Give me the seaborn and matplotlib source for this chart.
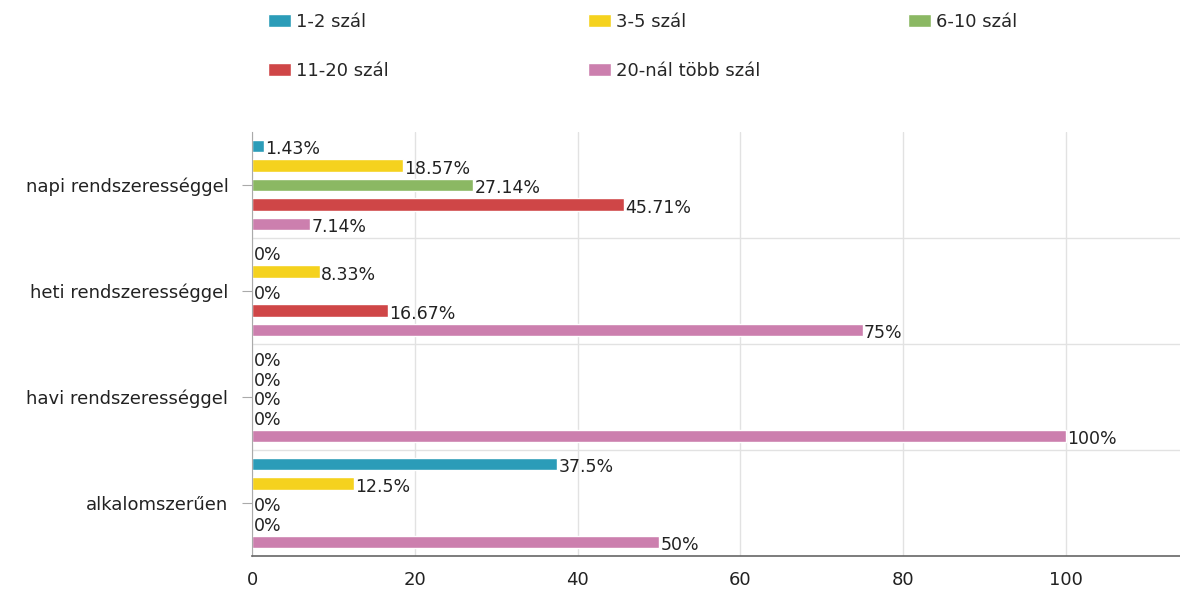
import matplotlib
matplotlib.use("Agg")
import matplotlib.pyplot as plt
import seaborn as sns
import pandas as pd
from matplotlib.patches import Patch

# data
categories = ["napi rendszerességgel", "heti rendszerességgel",
              "havi rendszerességgel", "alkalomszerűen"]
series = ["1-2 szál", "3-5 szál", "6-10 szál", "11-20 szál", "20-nál több szál"]
values = {
    "1-2 szál":          [1.43, 0, 0, 37.5],
    "3-5 szál":          [18.57, 8.33, 0, 12.5],
    "6-10 szál":         [27.14, 0, 0, 0],
    "11-20 szál":        [45.71, 16.67, 0, 0],
    "20-nál több szál":  [7.14, 75, 100, 50],
}
colors = ["#2b9cb8", "#f5d21e", "#8bb863", "#cf4647", "#cc7fae"]
xticks = [0, 20, 40, 60, 80, 100]

rows = []
for s in series:
    for c, v in zip(categories, values[s]):
        rows.append({"cat": c, "series": s, "val": v})
df = pd.DataFrame(rows)

sns.set_style("white")
plt.rcParams["font.family"] = ["DejaVu Sans"]

fig = plt.figure(figsize=(11.8, 5.94), dpi=100)
ax = fig.add_axes([252 / 1180, 1 - 556 / 594, 1 - 252 / 1180, (556 - 132) / 594])

sns.barplot(data=df, y="cat", x="val", hue="series", order=categories,
            hue_order=series, palette=colors, orient="h", width=0.92,
            gap=0.36, ax=ax, legend=False, saturation=1)

for cont in ax.containers:
    labels = ["{:g}%".format(v) for v in cont.datavalues]
    ax.bar_label(cont, labels=labels, padding=1, fontsize=12.5,
                 color="#222222")
for t in ax.texts:
    t.set_va("center")
    t.xyann = (1, -2.5)

ax.set_xlim(0, 114)
ax.set_ylim(3.5, -0.5)
ax.set_xticks(xticks)
ax.set_xlabel("")
ax.set_ylabel("")

ax.grid(axis="x", color="#e2e2e2", linewidth=1)
for yy in [0.5, 1.5, 2.5]:
    ax.axhline(yy, color="#e2e2e2", linewidth=1, zorder=0)
ax.set_axisbelow(True)

for side in ["top", "right"]:
    ax.spines[side].set_visible(False)
ax.spines["left"].set_color("#aaaaaa")
ax.spines["bottom"].set_color("#666666")
ax.spines["bottom"].set_linewidth(1.2)
ax.tick_params(axis="x", length=6, color="#666666", labelsize=13, pad=5,
               labelcolor="#222222")
ax.tick_params(axis="y", length=7, color="#aaaaaa", labelsize=13, pad=10,
               labelcolor="#222222", left=True)

# legend: three columns, row-wise order
handles = [Patch(facecolor=c, label=s) for c, s in zip(colors, series)]
col_x = [268, 588, 908]
columns = [[0, 3], [1, 4], [2]]
for x0, idx in zip(col_x, columns):
    leg = fig.legend([handles[i] for i in idx], [series[i] for i in idx],
                     loc="upper left", bbox_to_anchor=(x0 / 1180, 1 - 13 / 594),
                     frameon=False, fontsize=13, handlelength=1.25,
                     handleheight=0.75, handletextpad=0.3, labelspacing=1.7,
                     borderpad=0, borderaxespad=0)

fig.savefig("out.png", dpi=100)
